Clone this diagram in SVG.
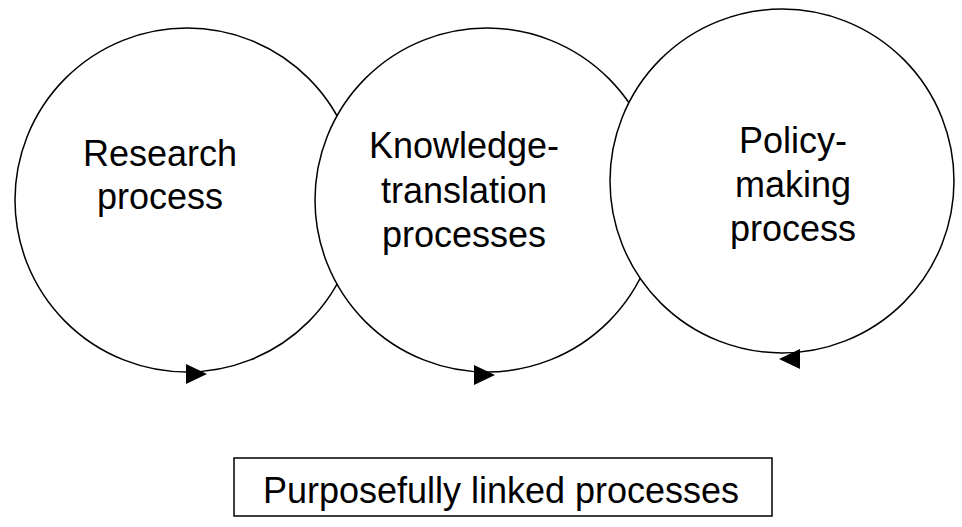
<svg xmlns="http://www.w3.org/2000/svg" width="962" height="527" viewBox="0 0 962 527">
<style>
.c{fill:#fff;stroke:#000;stroke-width:1.5}
.t{font-family:"Liberation Sans",Arial,sans-serif;font-size:36px;fill:#000;text-anchor:middle}
.b{fill:#fff;stroke:#000;stroke-width:1.5}
</style>
<defs>
<polygon id="tri" points="0,-10 0,10 21,0" fill="#000"/>
</defs>
<rect width="962" height="527" fill="#fff"/>
<g id="node-research">
<circle class="c" cx="187" cy="200" r="172"/>
<text class="t" x="160"><tspan x="160" y="166">Research</tspan><tspan x="160" y="209">process</tspan></text>
</g>
<g id="node-knowledge">
<circle class="c" cx="487" cy="200" r="172"/>
<text class="t"><tspan x="464" y="158">Knowledge-</tspan><tspan x="464" y="203">translation</tspan><tspan x="464" y="247">processes</tspan></text>
</g>
<g id="node-policy">
<circle class="c" cx="782" cy="181" r="172"/>
<text class="t"><tspan x="793" y="153">Policy-</tspan><tspan x="793" y="197">making</tspan><tspan x="793" y="241">process</tspan></text>
</g>
<g id="connectors">
<use href="#tri" transform="translate(186,374)"/>
<use href="#tri" transform="translate(474,375)"/>
<use href="#tri" transform="translate(800,359) scale(-1,1)"/>
</g>
<g id="node-linked">
<rect class="b" x="234" y="458" width="538" height="58"/>
<text class="t" x="501" y="503">Purposefully linked processes</text>
</g>
</svg>
